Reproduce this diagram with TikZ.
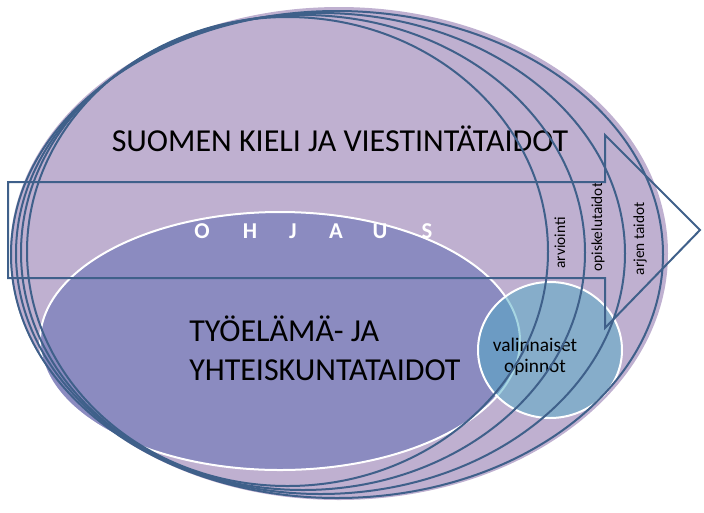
\documentclass[tikz,border=0pt]{standalone}
\usepackage{fontspec}
\setmainfont{Carlito}
\definecolor{bgpurple}{RGB}{191,176,208}
\definecolor{workviolet}{RGB}{139,139,192}
\definecolor{optblue}{RGB}{78,172,198}
\definecolor{linecol}{RGB}{63,96,138}

\begin{document}
\begin{tikzpicture}[x=0.75pt, y=-0.75pt,
    outline/.style={draw=linecol, line width=1.5pt},
    whiterim/.style={draw=white, line width=1.5pt},
    bigtext/.style={font=\fontsize{24}{29}\selectfont, inner sep=0pt},
    sidelabel/.style={rotate=90, font=\fontsize{11.5}{13}\selectfont, inner sep=0pt},
    guideletter/.style={text=white, font=\fontsize{17}{20}\selectfont\bfseries, inner sep=0pt}]
    \useasboundingbox (0,0) rectangle (704,512);

    % Base areas
    \fill[bgpurple] (339,253.5) ellipse [x radius=329, y radius=246.5];
    \path[fill=workviolet, whiterim] (280,341) ellipse [x radius=240, y radius=129];
    \path[fill=optblue, fill opacity=0.5, whiterim] (550,350) ellipse [x radius=72, y radius=68];

    % Texts
    \node[bigtext, anchor=base] (kieli) at (340,151) {SUOMEN KIELI JA VIESTINTÄTAIDOT};
    \node[bigtext, align=left, anchor=west] (tyoelama) at (189,348) {TYÖELÄMÄ- JA\\YHTEISKUNTATAIDOT};
    \node[font=\fontsize{14.5}{16}\selectfont, align=center, inner sep=0pt] (valinnaiset) at (535,357) {valinnaiset\\opinnot};
    \foreach \ch/\xx in {O/202, H/250, J/293, A/336, U/380, S/427}
        \node[guideletter] (ohjaus-\ch) at (\xx,231) {\ch};
    \node[sidelabel] (arviointi) at (560,243) {arviointi};
    \node[sidelabel] (opiskelu) at (598,227) {opiskelutaidot};
    \node[sidelabel] (arki) at (640,239) {arjen taidot};

    % Rings
    \draw[outline] (287.5,251.5) ellipse [x radius=260.5, y radius=234.5];
    \draw[outline] (303,252.5) ellipse [x radius=282, y radius=237.5];
    \draw[outline] (320.5,253.5) ellipse [x radius=304.5, y radius=240.5];
    \draw[outline] (337,254.5) ellipse [x radius=326, y radius=243.5];

    % Guidance arrow
    \draw[outline, line join=miter] (8,182) -- (605,182) -- (605,135) -- (700,230) -- (605,328) -- (605,278) -- (8,278) -- cycle;
\end{tikzpicture}
\end{document}
